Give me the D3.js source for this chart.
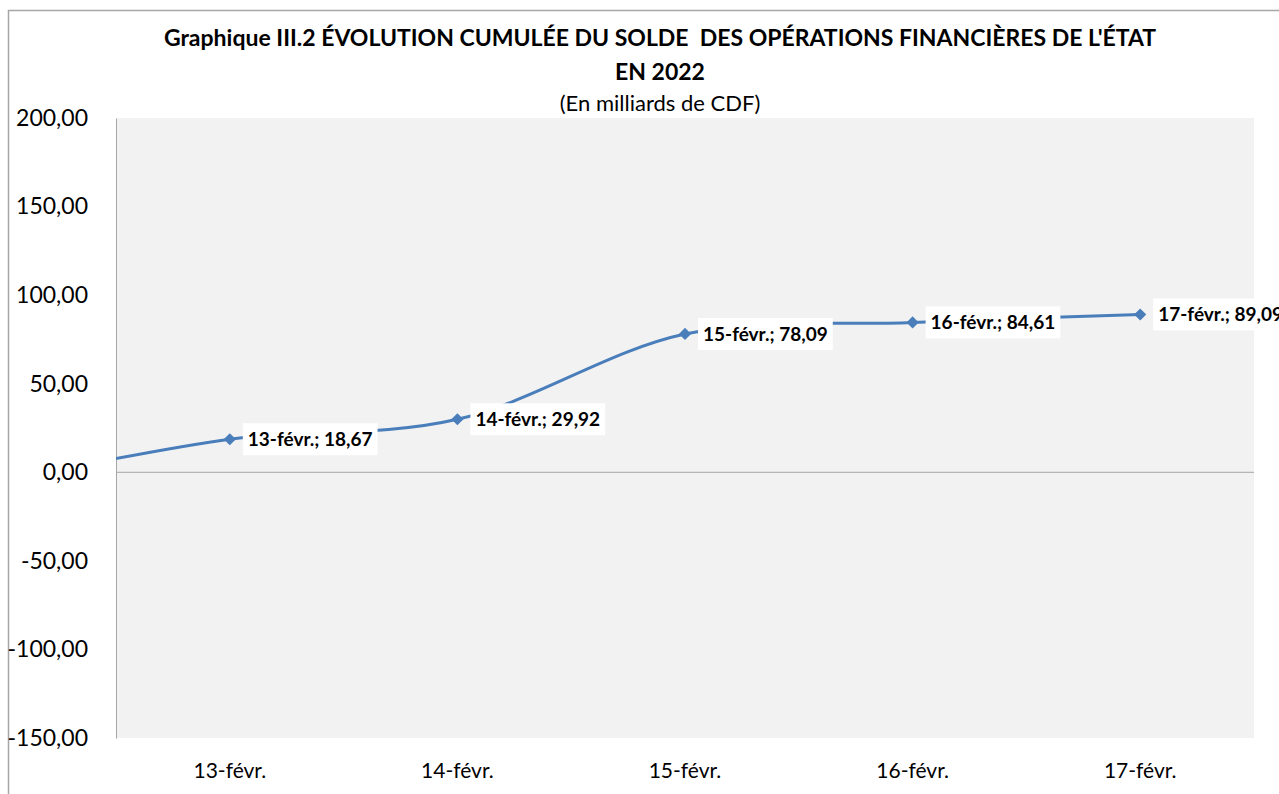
<!DOCTYPE html>
<html>
<meta charset="utf-8">
<head>
<title>Graphique III.2</title>
<style>
body { margin: 0; background: #fff; }
text { font-family: Lato, "Noto Sans", sans-serif; fill: #000; }
.title { font-weight: bold; font-size: 23px; text-anchor: middle; }
.subtitle { font-size: 22px; text-anchor: middle; }
.tick text { font-size: 23px; }
.xlab { font-size: 21px; text-anchor: middle; }
.dataLabel { font-weight: bold; font-size: 19px; }
.line { fill: none; stroke: #4a7ebb; stroke-width: 3px; }
</style>
</head>
<body>
<script src="https://d3js.org/d3.v7.min.js"></script>
<script>

// values
var categories = ["13-févr.", "14-févr.", "15-févr.", "16-févr.", "17-févr."];
var values = [18.67, 29.92, 78.09, 84.61, 89.09];
// the series starts one day earlier, outside the visible axis (cut at the left edge)
var leadCategory = "12-févr.";
var leadValue = -5;
var yTicks = [-150, -100, -50, 0, 50, 100, 150, 200];

var W = 1279, H = 794;
var margin = {top: 118, right: 25, bottom: 56, left: 116},
    width = W - margin.left - margin.right,
    height = H - margin.top - margin.bottom;

var svg = d3.select("body").append("svg")
    .attr("width", W)
    .attr("height", H);

// outer chart frame (only top and left are visible in the crop)
svg.append("path")
    .attr("d", "M8.5," + H + " V10.5 H" + W)
    .style("fill", "none")
    .style("stroke", "#a6a6a6")
    .style("stroke-width", 1.5);

svg.append("text").attr("class", "title").attr("x", 660).attr("y", 46)
    .text("Graphique III.2 ÉVOLUTION CUMULÉE DU SOLDE  DES OPÉRATIONS FINANCIÈRES DE L'ÉTAT")
    .style("white-space", "pre");
svg.append("text").attr("class", "title").attr("x", 660).attr("y", 80)
    .text("EN 2022");
svg.append("text").attr("class", "subtitle").attr("x", 660).attr("y", 111)
    .text("(En milliards de CDF)");

var g = svg.append("g")
    .attr("transform", "translate(" + margin.left + "," + margin.top + ")");

var x = d3.scaleBand()
    .domain(categories)
    .range([0, width]);

var y = d3.scaleLinear()
    .domain([-150, 200])
    .range([height, 0]);

// plot background
g.append("rect")
    .attr("width", width)
    .attr("height", height)
    .style("fill", "#f2f2f2");

// y axis
var yAxis = g.append("g")
    .call(d3.axisLeft(y).tickValues(yTicks).tickSize(0).tickPadding(28)
      .tickFormat(function(d) { return d3.format(".2f")(d).replace(".", ",").replace("−", "-"); }));
yAxis.select(".domain").style("stroke", "#a6a6a6");

// zero line
g.append("line")
    .attr("x1", 0).attr("x2", width)
    .attr("y1", y(0)).attr("y2", y(0))
    .style("stroke", "#a6a6a6");

// x labels
g.selectAll(".xlab")
    .data(categories).enter()
    .append("text")
    .attr("class", "xlab")
    .attr("x", function(d) { return x(d) + x.bandwidth() / 2; })
    .attr("y", height + 40)
    .text(function(d) { return d; });

var cx = function(i) { return x(categories[i]) + x.bandwidth() / 2; };

var pts = values.map(function(v, i) { return [cx(i), y(v)]; });
var all = [[cx(0) - x.bandwidth(), y(leadValue)]].concat(pts);

g.append("clipPath").attr("id", "plotClip")
  .append("rect").attr("width", width).attr("height", height);

g.append("path")
    .datum(all)
    .attr("class", "line")
    .attr("clip-path", "url(#plotClip)")
    .attr("d", d3.line().curve(d3.curveCardinal.tension(0)));

// diamond markers
g.selectAll(".marker")
    .data(values).enter()
    .append("path")
    .attr("transform", function(d, i) { return "translate(" + cx(i) + "," + y(d) + ") rotate(45)"; })
    .attr("d", "M-4.3,-4.3 H4.3 V4.3 H-4.3 Z")
    .style("fill", "#4a7ebb");

// data labels with white boxes
var lab = g.selectAll(".lab")
    .data(values).enter()
    .append("g")
    .attr("transform", function(d, i) { return "translate(" + (cx(i) + 13) + "," + y(d) + ")"; });

lab.append("text")
    .attr("class", "dataLabel")
    .attr("x", 5)
    .attr("dy", "0.36em")
    .text(function(d, i) { return categories[i] + "; " + d3.format(".2f")(d).replace(".", ","); });

lab.each(function() {
  var t = d3.select(this).select("text");
  var w = t.node().getComputedTextLength();
  d3.select(this).insert("rect", "text")
    .attr("x", 0).attr("y", -16)
    .attr("width", w + 10).attr("height", 32)
    .style("fill", "#fff");
});

</script>
</body>
</html>
